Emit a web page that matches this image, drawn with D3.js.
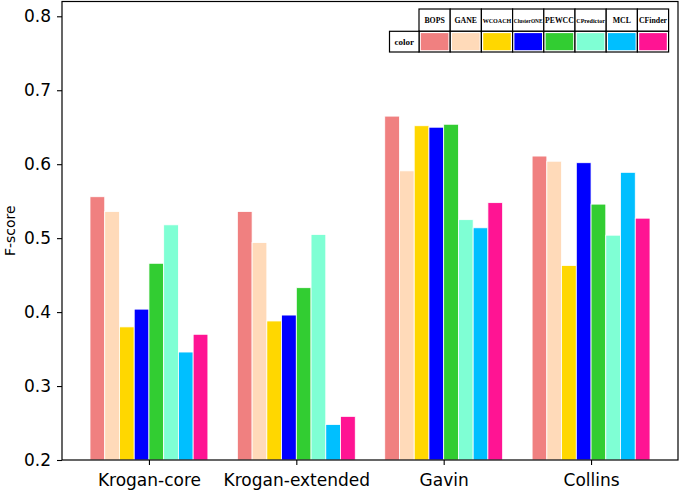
<!DOCTYPE html>
<html>
<head>
<meta charset="utf-8">
<script src="https://cdn.jsdelivr.net/npm/d3@7"></script>
<style>
  html, body { margin: 0; padding: 0; background: #fff; }
  svg { display: block; }
</style>
</head>
<body>
<svg id="chart" width="685" height="492"></svg>
<script>
// ---- data ----
const categories = ["Krogan-core", "Krogan-extended", "Gavin", "Collins"];
const methods = ["BOPS", "GANE", "WCOACH", "ClusterONE", "PEWCC", "CPredictor", "MCL", "CFinder"];
const colors = ["#F08080", "#FFDAB9", "#FFD700", "#0000FF", "#32CD32", "#7FFFD4", "#00BFFF", "#FF1493"];
const BOPS       = [0.556, 0.536, 0.665, 0.611];
const GANE       = [0.536, 0.494, 0.591, 0.604];
const WCOACH     = [0.380, 0.388, 0.652, 0.463];
const ClusterONE = [0.404, 0.396, 0.650, 0.602];
const PEWCC      = [0.466, 0.433, 0.654, 0.546];
const CPredictor = [0.518, 0.505, 0.525, 0.504];
const MCL        = [0.346, 0.248, 0.514, 0.589];
const CFinder    = [0.370, 0.259, 0.548, 0.527];
const seriesValues = [BOPS, GANE, WCOACH, ClusterONE, PEWCC, CPredictor, MCL, CFinder];
const yTicks = [0.2, 0.3, 0.4, 0.5, 0.6, 0.7, 0.8];
const yLabel = "F-score";
const tableRowLabel = "color";

// ---- layout ----
const mLeft = 62, mRight = 678, mTop = 1.5, mBottom = 460;
const barW = 0.1;
const svg = d3.select("#chart");

const x = d3.scaleLinear().domain([-0.59, 3.59]).range([mLeft, mRight]);
const y = d3.scaleLinear().domain([0.2, 0.82]).range([mBottom, mTop]);

// bars
seriesValues.forEach((vals, i) => {
  svg.append("g").selectAll("rect")
    .data(vals)
    .join("rect")
    .attr("x", (d, j) => x(j + (i - 4) * barW))
    .attr("width", x(barW) - x(0))
    .attr("y", d => y(d))
    .attr("height", d => y(0.2) - y(d))
    .attr("fill", colors[i])
    .attr("stroke", "#fff")
    .attr("stroke-width", 0.8);
});

// axes
const yAxis = d3.axisLeft(y).tickValues(yTicks).tickFormat(d3.format(".1f")).tickSize(5).tickPadding(6);
const gy = svg.append("g").attr("transform", `translate(${mLeft},0)`).call(yAxis);
const xAxis = d3.axisBottom(x).tickValues(d3.range(categories.length)).tickFormat(i => categories[i]).tickSize(5).tickPadding(6);
const gx = svg.append("g").attr("transform", `translate(0,${mBottom})`).call(xAxis);
[gx, gy].forEach(g => {
  g.select(".domain").remove();
  g.selectAll(".tick line").attr("stroke", "#000").attr("stroke-width", 1.1);
  g.selectAll(".tick text").attr("fill", "#000")
    .style("font-family", "DejaVu Sans, sans-serif").style("font-size", "17px");
});
gx.selectAll(".tick text").attr("dy", "0.88em");

// spines
svg.append("rect").attr("x", mLeft).attr("y", mTop).attr("width", mRight - mLeft).attr("height", mBottom - mTop)
  .attr("fill", "none").attr("stroke", "#000").attr("stroke-width", 1.2);

// y label
svg.append("text")
  .attr("transform", `translate(15,${(mTop + mBottom) / 2}) rotate(-90)`)
  .attr("text-anchor", "middle")
  .style("font-family", "DejaVu Sans, sans-serif").style("font-size", "14px")
  .text(yLabel);

// ---- legend table ----
const tX0 = 419, colW = 31.2, labW = 29.5;
const r1Top = 9, r1Bot = 31.3, r2Bot = 52;
const tg = svg.append("g");
const lineAttr = s => s.attr("stroke", "#000").attr("stroke-width", 1.2);
const tx = d3.scaleLinear().domain([0, methods.length]).range([tX0, tX0 + colW * methods.length]);

methods.forEach((m, i) => {
  tg.append("rect").attr("x", tx(i)).attr("y", r1Top).attr("width", colW).attr("height", r1Bot - r1Top)
    .attr("fill", "#fff").call(lineAttr);
  tg.append("rect").attr("x", tx(i)).attr("y", r1Bot).attr("width", colW).attr("height", r2Bot - r1Bot)
    .attr("fill", "#fff").call(lineAttr);
  tg.append("rect").attr("x", tx(i) + 1.8).attr("y", r1Bot + 1.8).attr("width", colW - 3.6).attr("height", r2Bot - r1Bot - 3.6)
    .attr("fill", colors[i]);
  const t = tg.append("text")
    .attr("x", tx(i) + colW / 2).attr("y", (r1Top + r1Bot) / 2 + 1.5)
    .attr("text-anchor", "middle").attr("dominant-baseline", "middle")
    .style("font-family", "Liberation Serif, DejaVu Serif, serif").style("font-weight", "bold")
    .style("font-size", "7.8px")
    .text(m);
  const len = t.node().getComputedTextLength();
  const maxLen = colW - 2.5;
  if (len > maxLen) t.style("font-size", (7.8 * maxLen / len).toFixed(2) + "px");
});
tg.append("rect").attr("x", tX0 - labW).attr("y", r1Bot).attr("width", labW).attr("height", r2Bot - r1Bot)
  .attr("fill", "#fff").call(lineAttr);
tg.append("text").attr("x", tX0 - labW / 2).attr("y", (r1Bot + r2Bot) / 2 + 1)
  .attr("text-anchor", "middle").attr("dominant-baseline", "middle")
  .style("font-family", "Liberation Serif, DejaVu Serif, serif").style("font-weight", "bold")
  .style("font-size", "9px")
  .text(tableRowLabel);
</script>
</body>
</html>
